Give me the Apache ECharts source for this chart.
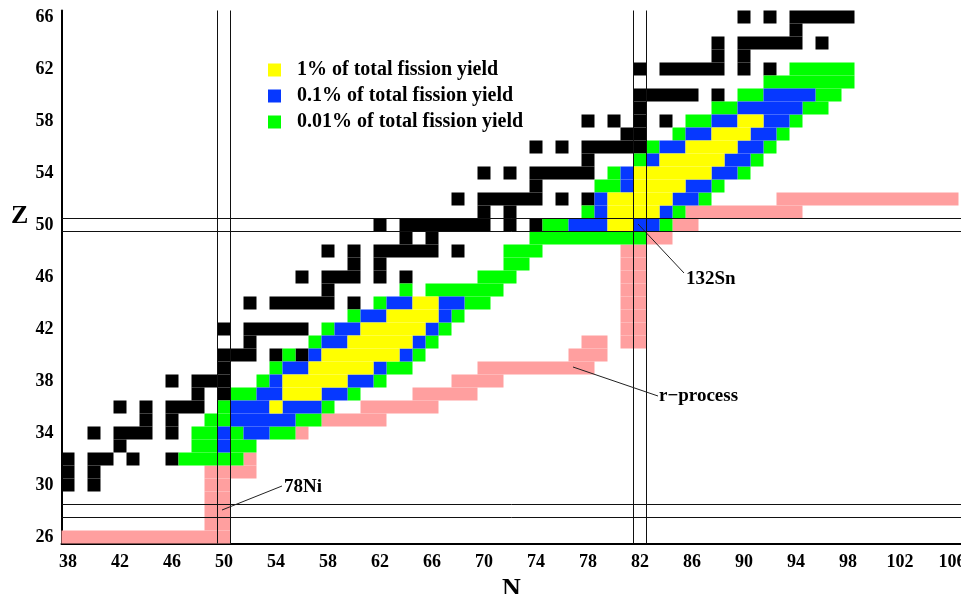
<!DOCTYPE html>
<html>
<head>
<meta charset="utf-8">
<title>Fission yields and the r-process path</title>
<script src="https://cdn.jsdelivr.net/npm/echarts@6/dist/echarts.min.js"></script>
<style>
  html, body { margin: 0; padding: 0; background: #ffffff; }
  #chart { width: 961px; height: 594px; }
</style>
</head>
<body>
<div id="chart"></div>
<script>
// Axis tick labels: neutron number N and proton number Z
const nTicks = [38, 42, 46, 50, 54, 58, 62, 66, 70, 74, 78, 82, 86, 90, 94, 98, 102, 106];
const zTicks = [26, 30, 34, 38, 42, 46, 50, 54, 58, 62, 66];

// Nuclide cells, stored as horizontal runs: [Z, first N, last N]
const stableRuns = [
  [30, 38, 38], [30, 40, 40],
  [31, 38, 38], [31, 40, 40],
  [32, 38, 38], [32, 40, 41], [32, 43, 43], [32, 46, 46],
  [33, 42, 42],
  [34, 40, 40], [34, 42, 44], [34, 46, 46],
  [35, 44, 44], [35, 46, 46],
  [36, 42, 42], [36, 44, 44], [36, 46, 48],
  [37, 48, 48], [37, 50, 50],
  [38, 46, 46], [38, 48, 50],
  [39, 50, 50],
  [40, 50, 52], [40, 54, 54], [40, 56, 56],
  [41, 52, 52],
  [42, 50, 50], [42, 52, 56],
  [44, 52, 52], [44, 54, 58], [44, 60, 60],
  [45, 58, 58],
  [46, 56, 56], [46, 58, 60], [46, 62, 62], [46, 64, 64],
  [47, 60, 60], [47, 62, 62],
  [48, 58, 58], [48, 60, 60], [48, 62, 66], [48, 68, 68],
  [49, 64, 64], [49, 66, 66],
  [50, 62, 62], [50, 64, 70], [50, 72, 72], [50, 74, 74],
  [51, 70, 70], [51, 72, 72],
  [52, 68, 68], [52, 70, 74], [52, 76, 76], [52, 78, 78],
  [53, 74, 74],
  [54, 70, 70], [54, 72, 72], [54, 74, 78],
  [55, 78, 78],
  [56, 74, 74], [56, 76, 76], [56, 78, 82],
  [57, 81, 82],
  [58, 78, 78], [58, 80, 80], [58, 82, 82], [58, 84, 84],
  [59, 82, 82],
  [60, 82, 86], [60, 88, 88],
  [62, 82, 82], [62, 84, 88], [62, 90, 90], [62, 92, 92],
  [63, 88, 88], [63, 90, 90],
  [64, 88, 88], [64, 90, 94], [64, 96, 96],
  [65, 94, 94],
  [66, 90, 90], [66, 92, 92], [66, 94, 98]
];

const yieldOnePctRuns = [
  [36, 54, 54], [37, 55, 57], [38, 55, 59], [39, 57, 61], [40, 58, 63],
  [41, 60, 64], [42, 61, 65], [43, 63, 66], [44, 65, 66],
  [50, 80, 81], [51, 80, 83], [52, 80, 84], [53, 82, 85], [54, 82, 87],
  [55, 84, 88], [56, 86, 89], [57, 88, 90], [58, 90, 91]
];

const yieldTenthPctRuns = [
  [33, 50, 50],
  [34, 50, 50], [34, 52, 53],
  [35, 51, 55],
  [36, 51, 53], [36, 55, 57],
  [37, 53, 54], [37, 58, 59],
  [38, 54, 54], [38, 60, 61],
  [39, 55, 56], [39, 62, 62],
  [40, 57, 57], [40, 64, 64],
  [41, 58, 59], [41, 65, 65],
  [42, 59, 60], [42, 66, 66],
  [43, 61, 62], [43, 67, 67],
  [44, 63, 64], [44, 67, 68],
  [50, 77, 79], [50, 82, 83],
  [51, 79, 79], [51, 84, 84],
  [52, 79, 79], [52, 85, 86],
  [53, 81, 81], [53, 86, 87],
  [54, 81, 81], [54, 88, 89],
  [55, 83, 83], [55, 89, 90],
  [56, 84, 85], [56, 90, 91],
  [57, 86, 87], [57, 91, 92],
  [58, 88, 89], [58, 92, 93],
  [59, 90, 94],
  [60, 92, 95]
];

const yieldHundredthPctRuns = [
  [32, 47, 51],
  [33, 48, 49], [33, 51, 52],
  [34, 48, 49], [34, 51, 51], [34, 54, 55],
  [35, 49, 50], [35, 56, 57],
  [36, 50, 50], [36, 58, 58],
  [37, 51, 52], [37, 60, 60],
  [38, 53, 53], [38, 62, 62],
  [39, 54, 54], [39, 63, 64],
  [40, 55, 55], [40, 65, 65],
  [41, 57, 57], [41, 66, 66],
  [42, 58, 58], [42, 67, 67],
  [43, 60, 60], [43, 68, 68],
  [44, 62, 62], [44, 69, 70],
  [45, 64, 64], [45, 66, 71],
  [46, 70, 72],
  [47, 72, 73],
  [48, 72, 74],
  [49, 74, 82],
  [50, 75, 76], [50, 84, 84],
  [51, 78, 78], [51, 85, 85],
  [52, 87, 87],
  [53, 79, 80], [53, 88, 88],
  [54, 80, 80], [54, 90, 90],
  [55, 82, 82], [55, 91, 91],
  [56, 83, 83], [56, 92, 92],
  [57, 85, 85], [57, 93, 93],
  [58, 86, 87], [58, 94, 94],
  [59, 88, 89], [59, 95, 96],
  [60, 90, 91], [60, 96, 97],
  [61, 92, 98],
  [62, 94, 98]
];

const rProcessRuns = [
  [26, 38, 50],
  [27, 49, 50], [28, 49, 50], [29, 49, 50], [30, 49, 50],
  [31, 49, 52],
  [32, 52, 52],
  [34, 56, 56],
  [35, 58, 62],
  [36, 61, 66],
  [37, 65, 69],
  [38, 68, 71],
  [39, 70, 78],
  [40, 77, 79],
  [41, 78, 79], [41, 81, 82],
  [42, 81, 82], [43, 81, 82], [44, 81, 82], [45, 81, 82],
  [46, 81, 82], [47, 81, 82], [48, 81, 82],
  [49, 83, 84],
  [50, 85, 86],
  [51, 86, 94],
  [52, 93, 106]
];

// Closed shells drawn as double lines around the magic numbers
const magicN = [50, 82];
const magicZ = [28, 50];

// Labelled nuclei / path points: [name, N, Z]
const labelNames = ['78Ni', '132Sn', 'r\u2212process'];
const labelN = [50, 82, 77];
const labelZ = [28, 50, 39];

const seriesNames = {
  one: '1% of total fission yield',
  tenth: '0.1% of total fission yield',
  hundredth: '0.01% of total fission yield'
};

// ---------------------------------------------------------------
const FONT = 'Liberation Serif';
const chart = echarts.init(document.getElementById('chart'), null, { renderer: 'canvas' });

function toRunData(runs) {
  return runs.map(r => [r[1], r[2], r[0]]);
}

// One rectangle per run, spanning whole cells on the N/Z scales
function renderRun(params, api) {
  const n1 = api.value(0), n2 = api.value(1), z = api.value(2);
  const a = api.coord([n1 - 0.5, z + 0.5]);
  const b = api.coord([n2 + 0.5, z - 0.5]);
  return {
    type: 'rect',
    shape: { x: a[0], y: a[1], width: b[0] - a[0], height: b[1] - a[1] },
    style: { fill: api.visual('color') }
  };
}

function runSeries(name, runs, color) {
  return {
    name: name,
    type: 'custom',
    renderItem: renderRun,
    data: toRunData(runs),
    encode: { x: [0, 1], y: 2 },
    itemStyle: { color: color },
    silent: true,
    z: 2
  };
}

// Magic-number lines: edges of the N = 50, 82 columns and Z = 28, 50 rows
const magicData = magicN.map(n => [n, 0]).concat(magicZ.map(z => [z, 1]));
function renderMagic(params, api) {
  const v = api.value(0), isRow = api.value(1) === 1;
  const cs = params.coordSys;
  const lines = [];
  [v - 0.5, v + 0.5].forEach(edge => {
    if (isRow) {
      const y = api.coord([40, edge])[1];
      lines.push({ type: 'line', shape: { x1: cs.x, y1: y, x2: cs.x + cs.width, y2: y },
        style: { stroke: '#111', lineWidth: 1 } });
    } else {
      const x = api.coord([edge, 40])[0];
      lines.push({ type: 'line', shape: { x1: x, y1: cs.y, x2: x, y2: cs.y + cs.height },
        style: { stroke: '#111', lineWidth: 1 } });
    }
  });
  return { type: 'group', children: lines };
}

// Leader lines and captions for the labelled nuclei
const leaderOffsets = [[58, -25], [44, 48], [83, 28]];
const captionOffsets = [[2, 1], [2, 6], [1, 0]];
function renderLabel(params, api) {
  const i = params.dataIndex;
  const p = api.coord([api.value(0), api.value(1)]);
  const end = [p[0] + leaderOffsets[i][0], p[1] + leaderOffsets[i][1]];
  return {
    type: 'group',
    children: [
      { type: 'line', shape: { x1: p[0] - 2, y1: p[1] - 1, x2: end[0], y2: end[1] },
        style: { stroke: '#222', lineWidth: 1 } },
      { type: 'text', x: end[0] + captionOffsets[i][0], y: end[1] + captionOffsets[i][1],
        style: { text: labelNames[i], fill: '#000', font: 'bold 19px "' + FONT + '"',
                 textAlign: 'left', textVerticalAlign: 'middle' } }
    ]
  };
}

const option = {
  animation: false,
  backgroundColor: '#ffffff',
  grid: { left: 61.5, top: 10.5, width: 899.6, height: 533,
          containLabel: false, outerBoundsMode: 'none' },
  xAxis: {
    type: 'value', min: 37.5, max: 106.7,
    name: 'N', nameLocation: 'middle', nameGap: 19,
    nameTextStyle: { fontFamily: FONT, fontWeight: 'bold', fontSize: 26, color: '#000' },
    axisLine: { show: true, onZero: false, lineStyle: { color: '#000', width: 2 } },
    axisTick: { show: false },
    splitLine: { show: false },
    axisLabel: { customValues: nTicks, margin: 10, fontFamily: FONT, fontWeight: 'bold',
                 fontSize: 18, color: '#000', hideOverlap: false }
  },
  yAxis: {
    type: 'value', min: 25.5, max: 66.5,
    axisLine: { show: true, onZero: false, lineStyle: { color: '#000', width: 2 } },
    axisTick: { show: false },
    splitLine: { show: false },
    axisLabel: { customValues: zTicks, margin: 8, fontFamily: FONT, fontWeight: 'bold',
                 fontSize: 18, color: '#000' }
  },
  legend: {
    data: [seriesNames.one, seriesNames.tenth, seriesNames.hundredth],
    orient: 'vertical', left: 268, top: 60, padding: 0,
    itemWidth: 13, itemHeight: 13, itemGap: 6, icon: 'rect',
    selectedMode: false,
    textStyle: { fontFamily: FONT, fontWeight: 'bold', fontSize: 20, color: '#000',
                 padding: [0, 0, 0, 11] }
  },
  graphic: [
    { type: 'text', left: 11, top: 203,
      style: { text: 'Z', font: 'bold 26px "' + FONT + '"', fill: '#000' } }
  ],
  series: [
    runSeries('stable', stableRuns, '#000000'),
    runSeries('r-process', rProcessRuns, '#ff9f9f'),
    runSeries(seriesNames.hundredth, yieldHundredthPctRuns, '#00ff00'),
    runSeries(seriesNames.tenth, yieldTenthPctRuns, '#0638ff'),
    runSeries(seriesNames.one, yieldOnePctRuns, '#ffff00'),
    {
      name: 'magic', type: 'custom', renderItem: renderMagic, data: magicData,
      encode: { x: 0 }, silent: true, z: 3
    },
    {
      name: 'labels', type: 'custom', renderItem: renderLabel,
      data: labelN.map((n, i) => [n, labelZ[i]]),
      encode: { x: 0, y: 1 }, silent: true, z: 4
    }
  ]
};

chart.setOption(option);
</script>
</body>
</html>
